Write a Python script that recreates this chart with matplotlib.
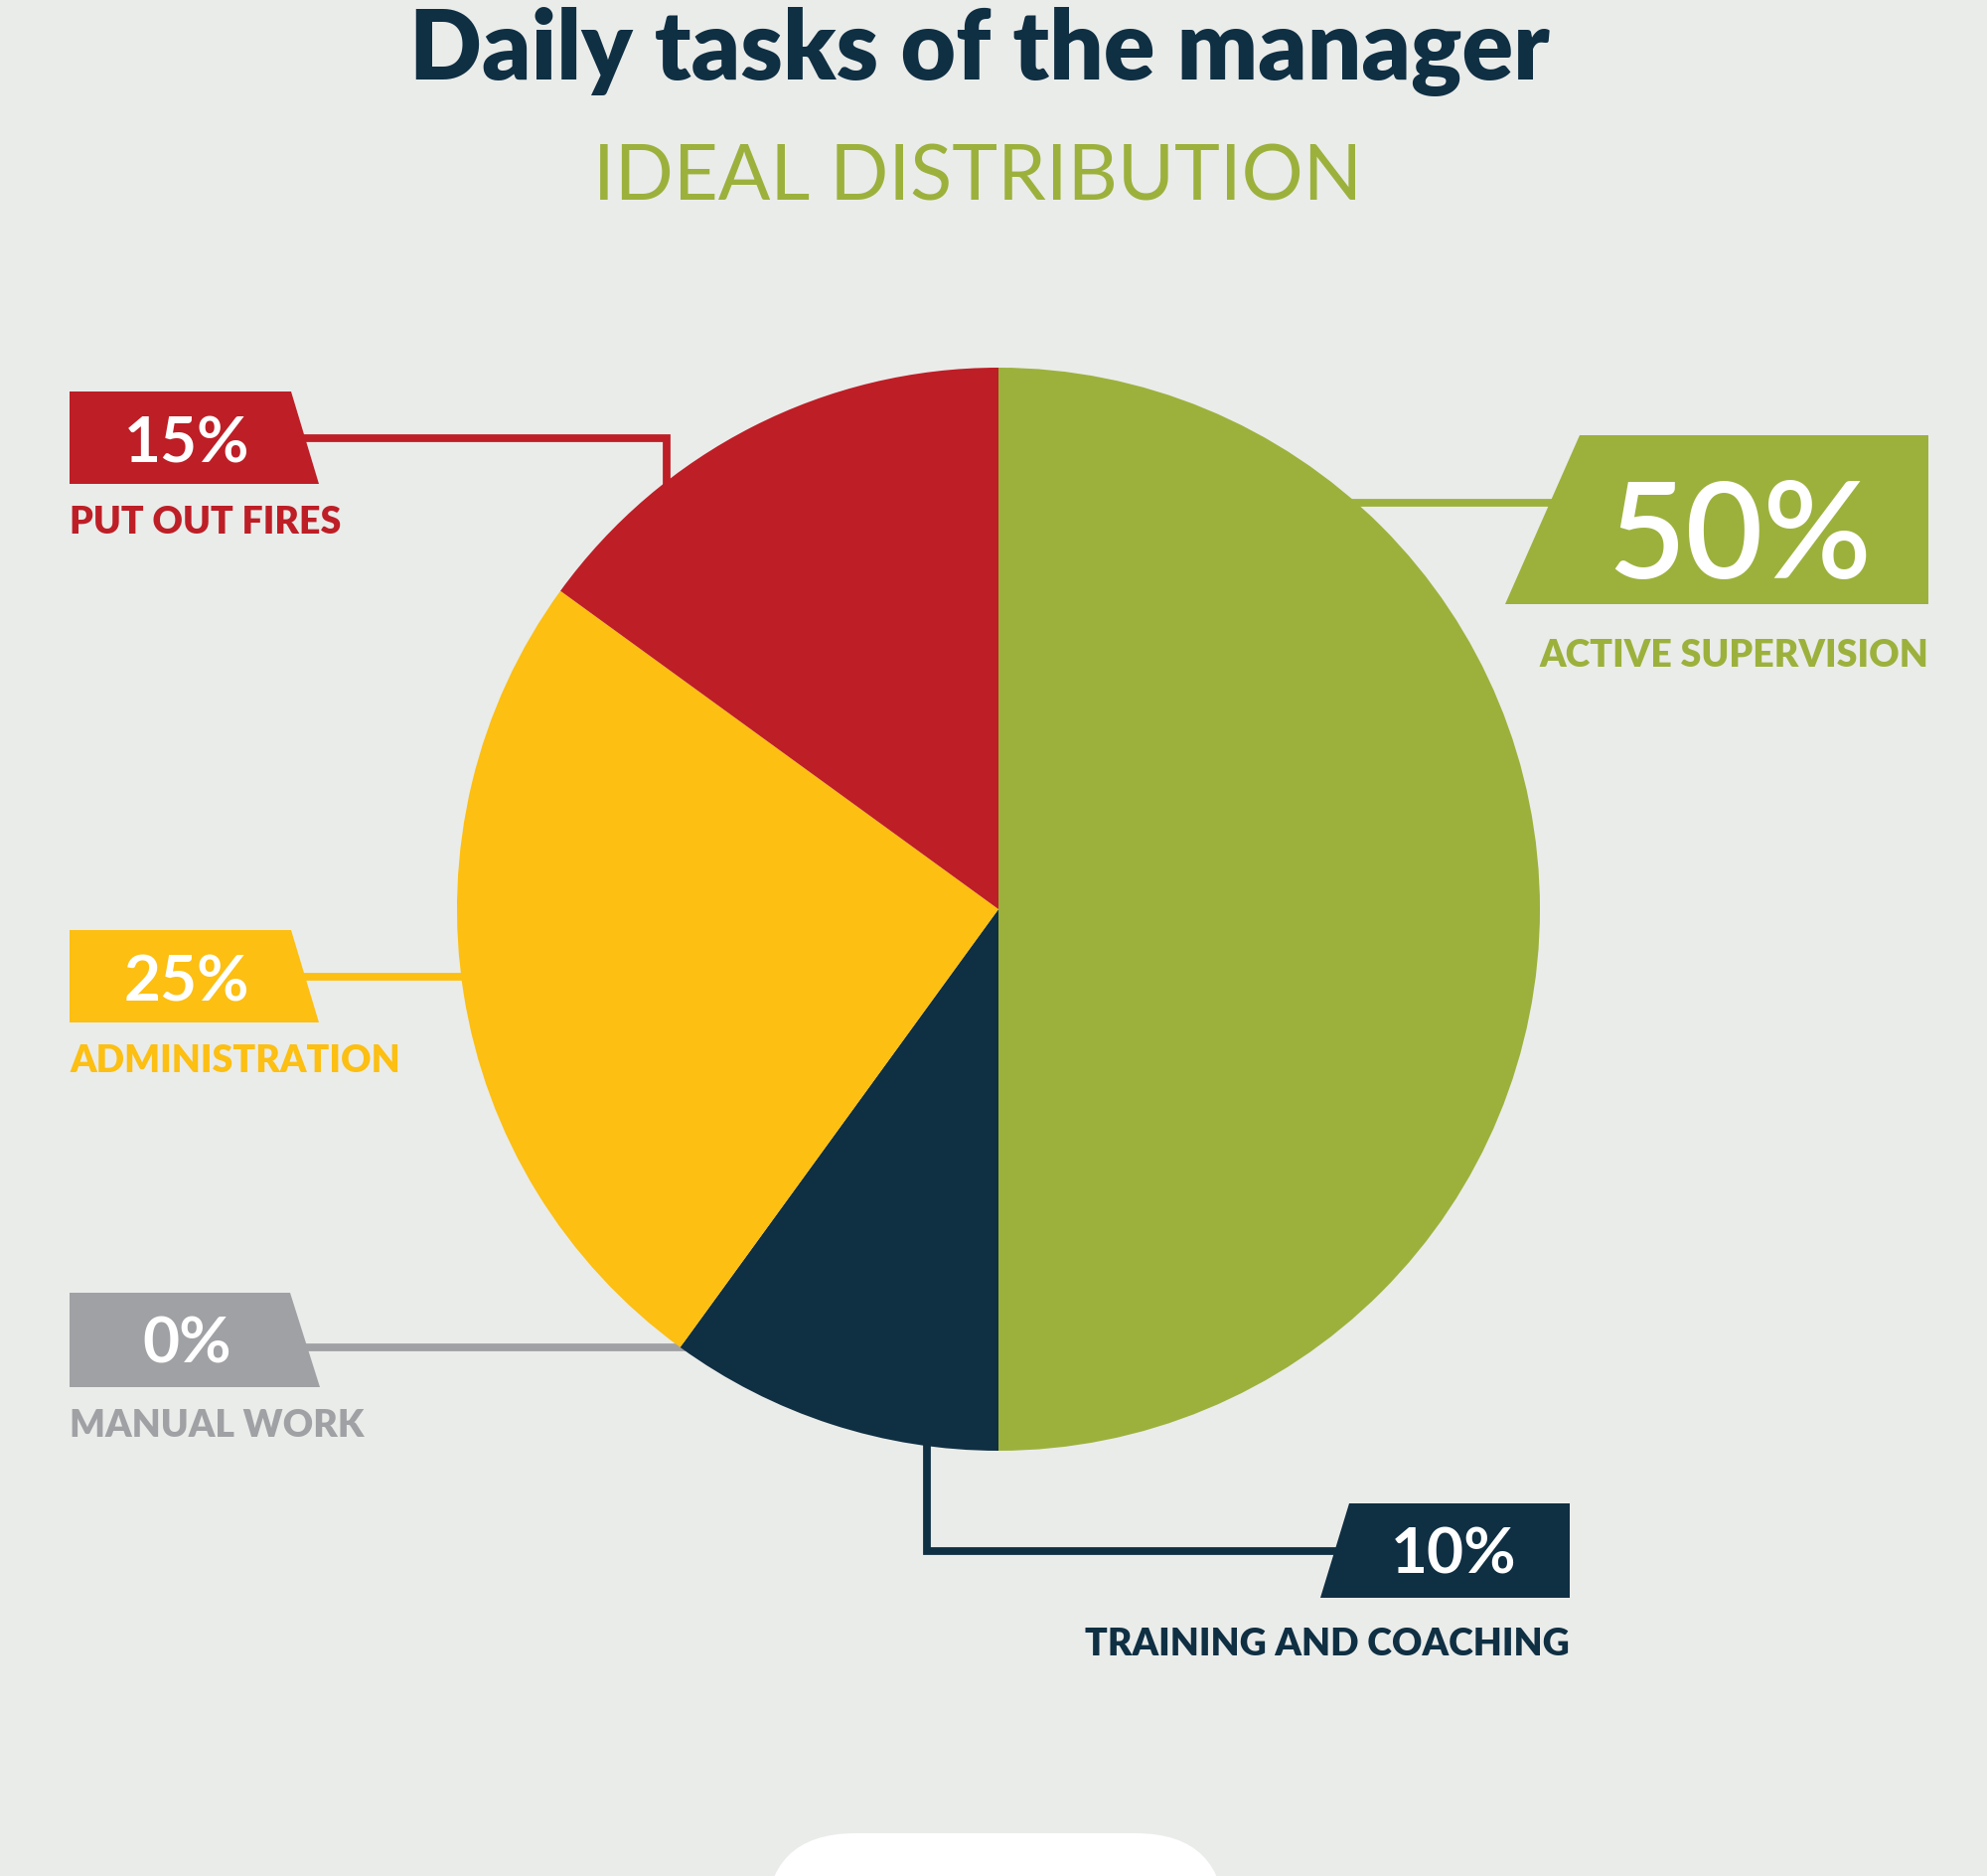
import numpy as np
import matplotlib
matplotlib.use("Agg")
import matplotlib.pyplot as plt
from matplotlib.patches import Polygon, FancyBboxPatch

# data
categories = ["ACTIVE SUPERVISION", "TRAINING AND COACHING", "MANUAL WORK",
              "ADMINISTRATION", "PUT OUT FIRES"]
shares = [50, 10, 0, 25, 15]
colors = ["#9cb13c", "#0f2f43", "#a0a1a4", "#fcbf12", "#be1e26"]

title = "Daily tasks of the manager"
subtitle = "IDEAL DISTRIBUTION"

BG = "#eaecea"
W, H = 2000, 1888
CX, CY, R = 1005, 915, 545

# layout for each callout (pixel coords, y downwards)
layout = {
    "ACTIVE SUPERVISION": dict(
        box=[(1590, 438), (1941, 438), (1941, 608), (1515, 608)],
        pct=(1751, 582, 97, "semibold"), lab=(1941, 671, "right"),
        frac=0.23, elbow=None, end=1700),
    "TRAINING AND COACHING": dict(
        box=[(1358, 1513), (1580, 1513), (1580, 1608), (1329, 1608)],
        pct=(1463, 1584, 46, "bold"), lab=(1580, 1666, "right"),
        frac=0.21, elbow=1561, end=1400),
    "MANUAL WORK": dict(
        box=[(70, 1301), (292, 1301), (322, 1396), (70, 1396)],
        pct=(188, 1372, 46, "bold"), lab=(70, 1446, "left"),
        frac=0.5, elbow=None, end=250),
    "ADMINISTRATION": dict(
        box=[(70, 936), (293, 936), (321, 1029), (70, 1029)],
        pct=(188, 1007, 46, "bold"), lab=(70, 1079, "left"),
        frac=0.52, elbow=None, end=250),
    "PUT OUT FIRES": dict(
        box=[(70, 394), (293, 394), (321, 487), (70, 487)],
        pct=(188, 465, 46, "bold"), lab=(70, 537, "left"),
        frac=0.30, elbow=441, end=250),
}

fig = plt.figure(figsize=(W / 100, H / 100), dpi=100, facecolor=BG)
ax = fig.add_axes([0, 0, 1, 1])
ax.set_facecolor(BG)

# y axis is flipped below, so counterclock in data = clockwise on screen
ax.pie(shares, colors=colors, startangle=-90, counterclock=True,
       center=(CX, CY), radius=R, wedgeprops=dict(linewidth=0, zorder=2))

ax.set_xlim(0, W)
ax.set_ylim(H, 0)
ax.set_aspect("equal")
ax.axis("off")

cum = np.concatenate([[0], np.cumsum(shares)[:-1]])
for cat, share, c0, col in zip(categories, shares, cum, colors):
    lay = layout[cat]
    theta = np.deg2rad(90 - 3.6 * c0 - 3.6 * share * lay["frac"])
    px, py = CX + R * np.cos(theta), CY - R * np.sin(theta)
    # push a bit into the pie so no gap shows
    qx, qy = CX + (R - 12) * np.cos(theta), CY - (R - 12) * np.sin(theta)
    if lay["elbow"] is None:
        xs, ys = [qx, lay["end"]], [py, py]
    else:
        xs, ys = [px, px, lay["end"]], [qy, lay["elbow"], lay["elbow"]]
    ax.plot(xs, ys, color=col, lw=5.6, solid_capstyle="butt",
            solid_joinstyle="miter", zorder=1)
    ax.add_patch(Polygon(lay["box"], closed=True, facecolor=col,
                         edgecolor="none", zorder=3))
    tx, ty, fs, fw = lay["pct"]
    ax.text(tx, ty, f"{share}%", color="white", fontsize=fs,
            fontfamily="Lato", fontweight=fw,
            ha="center", va="baseline", zorder=4)
    lx, ly, ha = lay["lab"]
    ax.text(lx, ly, cat, color=col, fontsize=27, fontfamily="Lato",
            fontweight="heavy", ha=ha, va="baseline", zorder=4)

ax.text(986, 80, title, color="#0f2f43", fontsize=69, fontfamily="Lato",
        fontweight="heavy", ha="center", va="baseline")
ax.text(984, 201, subtitle, color="#9cb13c", fontsize=56, fontfamily="Lato",
        fontweight="normal", ha="center", va="baseline")

# white rounded tab at the bottom
ax.add_patch(FancyBboxPatch((771, 1845), 462, 200,
                            boxstyle="round,pad=0,rounding_size=90",
                            facecolor="white", edgecolor="none", zorder=2))

fig.savefig("out.png", dpi=100, facecolor=BG)
